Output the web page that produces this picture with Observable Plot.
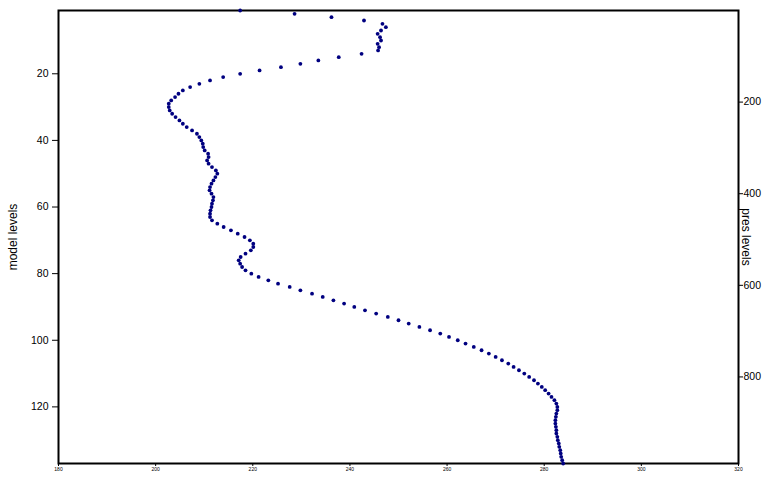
<!DOCTYPE html>
<html>
<head>
<meta charset="utf-8">
<script src="https://cdn.jsdelivr.net/npm/d3@7"></script>
<script src="https://cdn.jsdelivr.net/npm/@observablehq/plot@0.6"></script>
<style>
  html, body { margin: 0; padding: 0; background: #fff; }
  #chart svg { display: block; }
</style>
</head>
<body>
<div id="chart"></div>
<script>
// Temperature (K) at model levels 1..137
const temperature = [
  217.4, 228.6, 236.2, 242.9, 246.7, 247.4, 246.4, 245.7, 246.2, 246.4,
  245.7, 246.0, 245.8, 242.4, 237.7, 233.5, 229.8, 225.8, 221.4, 217.4,
  213.9, 211.2, 209.0, 207.1, 205.6, 204.7, 204.0, 203.2, 202.7, 202.7,
  202.9, 203.4, 204.1, 204.9, 205.6, 206.4, 207.5, 208.5, 209.0, 209.4,
  209.7, 209.8, 210.1, 210.8, 210.9, 210.6, 210.9, 211.6, 212.4, 212.7,
  212.3, 211.9, 211.5, 211.2, 211.1, 211.5, 211.9, 211.8, 211.6, 211.5,
  211.3, 211.2, 211.2, 211.6, 212.7, 214.0, 215.5, 216.9, 218.3, 219.4,
  220.1, 220.1, 219.6, 218.5, 217.5, 217.1, 217.4, 217.8, 218.5, 219.7,
  221.2, 223.2, 225.2, 227.6, 229.8, 232.2, 234.4, 236.6, 238.8, 240.9,
  243.1, 245.4, 247.8, 250.0, 252.1, 254.3, 256.5, 258.6, 260.4, 262.2,
  263.8, 265.5, 267.1, 268.6, 270.0, 271.3, 272.6, 273.7, 274.8, 275.9,
  276.9, 277.9, 278.7, 279.5, 280.2, 280.9, 281.5, 282.1, 282.5, 282.7,
  282.7, 282.5, 282.4, 282.3, 282.3, 282.4, 282.5, 282.5, 282.7, 282.8,
  283.0, 283.1, 283.3, 283.4, 283.5, 283.7, 283.9
];
const levels = temperature.map((t, i) => i + 1);
const xTicks = [180, 200, 220, 240, 260, 280, 300, 320];
const levelTicks = [20, 40, 60, 80, 100, 120];
const presTicks = [200, 400, 600, 800];
const bottomPressure = 989;   // hPa at the lowest model level (right-axis mapping)
const firstLevel = 1, lastLevel = 137;

const levelOfPres = p => firstLevel + (p / bottomPressure) * (lastLevel - firstLevel);
const font = "'Liberation Sans Narrow', 'Liberation Sans', Arial, sans-serif";

const plot = Plot.plot({
  width: 771,
  height: 482,
  marginLeft: 58,
  marginRight: 33,
  marginTop: 10,
  marginBottom: 19,
  style: { fontFamily: font, background: "#fff", color: "#000" },
  x: { domain: [180, 320], label: null },
  y: { domain: [firstLevel, lastLevel], reverse: true, label: null },
  marks: [
    Plot.axisX({ ticks: xTicks, tickSize: 3, tickPadding: 1, fontSize: 5, label: null, stroke: "#000" }),
    Plot.axisY({ anchor: "left", ticks: levelTicks, tickSize: 6, tickPadding: 4, fontSize: 10.5, label: null, stroke: "#000" }),
    Plot.axisY({
      anchor: "right",
      ticks: presTicks.map(levelOfPres),
      tickFormat: d => String(Math.round((d - firstLevel) / (lastLevel - firstLevel) * bottomPressure)),
      tickSize: 4, tickPadding: 1, fontSize: 10.5, label: null, stroke: "#000"
    }),
    Plot.text(["model levels"], { frameAnchor: "left", textAnchor: "middle", rotate: -90, dx: -45, fontSize: 12, fill: "#000" }),
    Plot.text(["pres levels"], { frameAnchor: "right", textAnchor: "middle", rotate: 90, dx: 7, fontSize: 12, fill: "#000" }),
    Plot.frame({ stroke: "#000", strokeWidth: 2 }),
    Plot.dot(levels, { x: (d, i) => temperature[i], y: d => d, r: 1.9, fill: "#000080", stroke: "none" })
  ]
});
document.getElementById("chart").appendChild(plot);
</script>
</body>
</html>
